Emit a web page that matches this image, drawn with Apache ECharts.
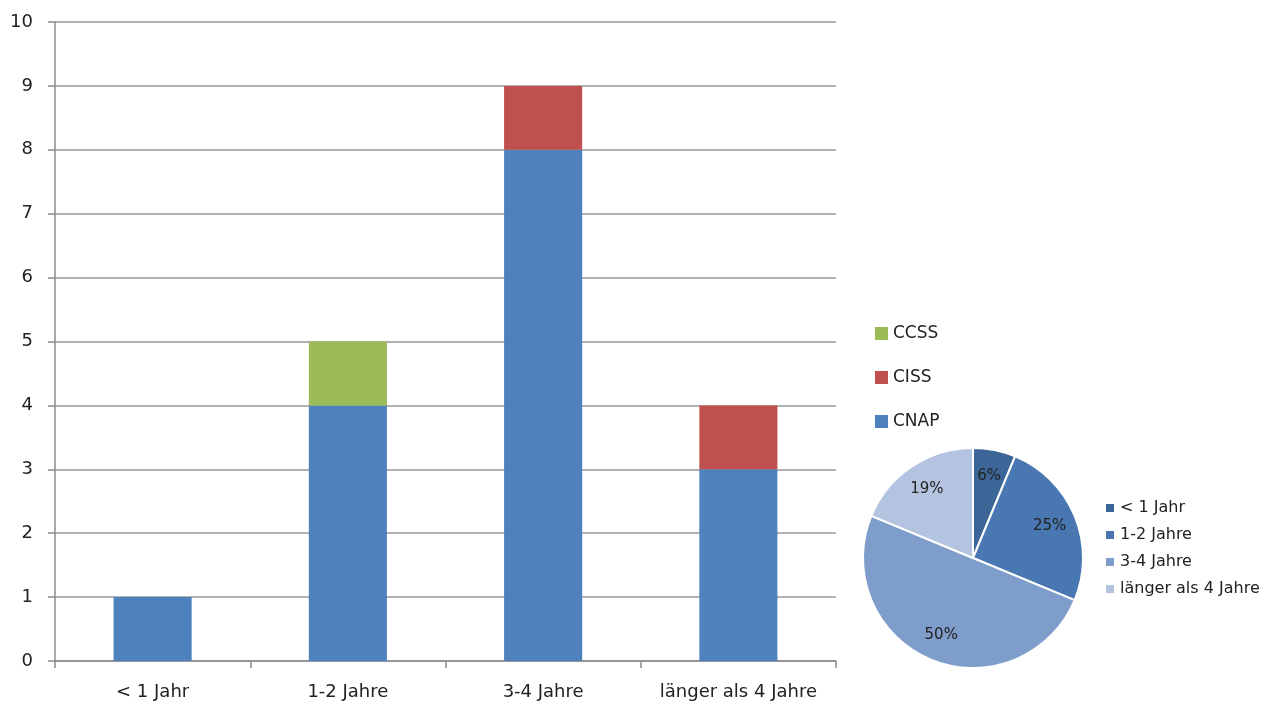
<!DOCTYPE html>
<html>
<head>
<meta charset="utf-8">
<script src="https://cdn.jsdelivr.net/npm/echarts@6/dist/echarts.min.js"></script>
<style>
  html, body { margin: 0; padding: 0; background: #fff; }
  #chart { width: 1268px; height: 704px; }
</style>
</head>
<body>
<div id="chart"></div>
<script>
// Dauer-Kategorien und Anzahl je Studiengang
const categories = ['< 1 Jahr', '1-2 Jahre', '3-4 Jahre', 'länger als 4 Jahre'];
const cnap = [1, 4, 8, 3];
const ciss = [0, 0, 1, 1];
const ccss = [0, 1, 0, 0];
const yTicks = [0, 1, 2, 3, 4, 5, 6, 7, 8, 9, 10];

// Gesamtzahl je Kategorie für das Kreisdiagramm
const pieValues = [1, 4, 8, 3];
const pieColors = ['#3C6698', '#4877B2', '#7E9DCA', '#B4C4E0'];

const FONT = '"DejaVu Sans", "Liberation Sans", sans-serif';

const chart = echarts.init(document.getElementById('chart'), null, { renderer: 'canvas' });

const pieData = categories.map((c, i) => ({
  name: c,
  value: pieValues[i],
  itemStyle: { color: pieColors[i] }
}));

chart.setOption({
  animation: false,
  backgroundColor: '#fff',
  textStyle: { fontFamily: FONT },
  grid: { left: 55, right: 432, top: 22, bottom: 43, containLabel: false },
  legend: [
    {
      data: ['CCSS', 'CISS', 'CNAP'],
      orient: 'vertical',
      left: 875,
      top: 325,
      padding: 0,
      itemWidth: 13,
      itemHeight: 13,
      itemGap: 27,
      icon: 'rect',
      textStyle: { fontSize: 17, color: '#222', fontFamily: FONT }
    },
    {
      data: categories,
      orient: 'vertical',
      left: 1104,
      top: 500,
      padding: 0,
      itemWidth: 10,
      itemHeight: 10,
      itemGap: 11,
      icon: 'rect',
      textStyle: { fontSize: 16, color: '#222', fontFamily: FONT }
    }
  ],
  xAxis: {
    type: 'category',
    data: categories,
    axisLine: { lineStyle: { color: '#8c8c8c', width: 1.5 } },
    axisTick: { show: true, interval: 0, alignWithLabel: false, length: 7, lineStyle: { color: '#8c8c8c', width: 1.5 } },
    axisLabel: { interval: 0, hideOverlap: false, fontSize: 18, color: '#222', margin: 22, fontFamily: FONT }
  },
  yAxis: {
    type: 'value',
    min: 0,
    max: 10,
    interval: 1,
    axisLine: { show: true, lineStyle: { color: '#8c8c8c', width: 1.5 } },
    axisTick: { show: true, length: 7, lineStyle: { color: '#8c8c8c', width: 1.5 } },
    axisLabel: {
      fontSize: 18, color: '#222', margin: 22, fontFamily: FONT,
      formatter: v => yTicks.includes(v) ? String(v) : ''
    },
    splitLine: { show: true, lineStyle: { color: '#999', width: 1.5 } }
  },
  series: [
    {
      name: 'CNAP', type: 'bar', stack: 'total', data: cnap, barWidth: '40%',
      itemStyle: { color: '#4F81BD' }
    },
    {
      name: 'CISS', type: 'bar', stack: 'total', data: ciss, barWidth: '40%',
      itemStyle: { color: '#C0504D' }
    },
    {
      name: 'CCSS', type: 'bar', stack: 'total', data: ccss, barWidth: '40%',
      itemStyle: { color: '#9BBB59' }
    },
    {
      name: 'Dauer', type: 'pie',
      center: [973, 558],
      radius: [0, 110],
      startAngle: 90,
      clockwise: true,
      data: pieData,
      label: { show: false },
      labelLine: { show: false },
      itemStyle: { borderColor: '#fff', borderWidth: 2 },
      emphasis: { disabled: true }
    },
    {
      // unsichtbarer Ring, der die Prozentwerte auf ca. 70 % des Radius setzt
      name: 'DauerLabels', type: 'pie',
      center: [973, 558],
      radius: [48, 112],
      startAngle: 90,
      clockwise: true,
      silent: true,
      legendHoverLink: false,
      data: pieData.map(d => ({ name: d.name, value: d.value, itemStyle: { color: 'rgba(0,0,0,0)' } })),
      label: {
        show: true,
        position: 'inside',
        fontSize: 15,
        color: '#222',
        fontFamily: FONT,
        formatter: p => Math.round(p.percent) + '%'
      },
      labelLine: { show: false },
      emphasis: { disabled: true }
    }
  ]
});
</script>
</body>
</html>
